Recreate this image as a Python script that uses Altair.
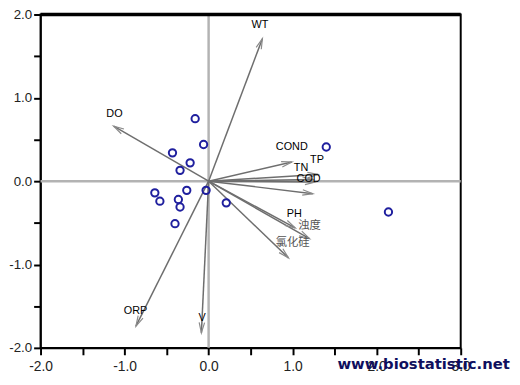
import altair as alt
import pandas as pd
import numpy as np

# ---- data ----
site_x = [-0.16, -0.06, -0.43, -0.22, -0.34, -0.03, -0.26, -0.64, -0.58, -0.36, -0.34, -0.40, 0.21, 1.40, 2.14]
site_y = [0.75, 0.44, 0.34, 0.22, 0.13, -0.11, -0.11, -0.14, -0.24, -0.22, -0.31, -0.51, -0.26, 0.41, -0.37]

arrow_x = [0.64, -1.13, -0.865, -0.086, 0.99, 1.30, 1.24, 1.27, 1.24, 1.03, 1.20, 0.95]
arrow_y = [1.71, 0.66, -1.74, -1.82, 0.23, 0.08, 0.02, -0.01, -0.15, -0.56, -0.69, -0.92]

label_text = ["WT", "DO", "ORP", "V", "COND", "TP", "TN", "COD", "PH", "浊度", "氯化硅"]
label_x = [0.61, -1.12, -0.87, -0.076, 0.99, 1.29, 1.10, 1.19, 1.02, 1.20, 1.00]
label_y = [1.87, 0.80, -1.56, -1.64, 0.405, 0.25, 0.155, 0.03, -0.393, -0.536, -0.738]

x_ticks = [-2.0, -1.5, -1.0, -0.5, 0.0, 0.5, 1.0, 1.5, 2.0, 2.5, 3.0]
y_ticks = [-2.0, -1.5, -1.0, -0.5, 0.0, 0.5, 1.0, 1.5, 2.0]
x_domain = [-2, 3]
y_domain = [-2, 2]

W, H = 426, 338

sites = pd.DataFrame({"x": site_x, "y": site_y})
arrows = pd.DataFrame({"x0": 0.0, "y0": 0.0, "x": arrow_x, "y": arrow_y})
sx = W / (x_domain[1] - x_domain[0])
sy = H / (y_domain[1] - y_domain[0])
arrows["ang"] = np.degrees(np.arctan2(arrows["x"] * sx, arrows["y"] * sy)) % 360
labels = pd.DataFrame({"x": label_x, "y": label_y, "t": label_text})
labels["cjk"] = [any(ord(c) > 255 for c in s) for s in label_text]
zeros = pd.DataFrame({"v": [0.0]})

lab_expr = "datum.value % 1 === 0 ? datum.value + '.0' : ''"
xs = alt.Scale(domain=x_domain, nice=False, zero=False)
ys = alt.Scale(domain=y_domain, nice=False, zero=False)

xaxis = alt.Axis(values=x_ticks, labelExpr=lab_expr, title=None, grid=False,
                 tickSize=7, tickWidth=2, tickColor="black", domainColor="black",
                 domainWidth=2, labelFontSize=14, labelFont="Liberation Sans",
                 labelColor="#222", labelPadding=5, labelFlush=False, labelOverlap=False)
yaxis = alt.Axis(values=y_ticks, labelExpr=lab_expr, title=None, grid=False,
                 tickSize=7, tickWidth=2, tickColor="black", domainColor="black",
                 domainWidth=1.5, labelFontSize=13.5, labelFont="Liberation Sans",
                 labelColor="#222", labelPadding=2, labelFlush=False, labelOverlap=False)

vline = alt.Chart(zeros).mark_rule(color="#b3b3b3", strokeWidth=2.5).encode(
    x=alt.X("v:Q", scale=xs, axis=xaxis))
hline = alt.Chart(zeros).mark_rule(color="#b3b3b3", strokeWidth=2.5).encode(
    y=alt.Y("v:Q", scale=ys, axis=yaxis))

lines = alt.Chart(arrows).mark_rule(color="#6e6e6e", strokeWidth=1.5).encode(
    x=alt.X("x0:Q", scale=xs), y=alt.Y("y0:Q", scale=ys), x2="x:Q", y2="y:Q")

heads = alt.Chart(arrows).mark_point(
    shape="M-0.55,2.1L0,0L0.55,2.1", filled=False, stroke="#8a8a8a",
    strokeWidth=1.2, size=100, opacity=1).encode(
    x=alt.X("x:Q", scale=xs), y=alt.Y("y:Q", scale=ys),
    angle=alt.Angle("ang:Q", scale=None))

pts = alt.Chart(sites).mark_point(shape="circle", filled=False, color="#1f1f9e",
                                  strokeWidth=2, size=55, opacity=1).encode(
    x=alt.X("x:Q", scale=xs), y=alt.Y("y:Q", scale=ys))

txt_latin = alt.Chart(labels).transform_filter("!datum.cjk").mark_text(
    font="Liberation Sans", fontSize=11, color="black", align="center", baseline="middle").encode(
    x=alt.X("x:Q", scale=xs), y=alt.Y("y:Q", scale=ys), text="t:N")
txt_cjk = alt.Chart(labels).transform_filter("datum.cjk").mark_text(
    font="Noto Sans CJK SC", fontSize=11.5, color="#555", align="center", baseline="middle").encode(
    x=alt.X("x:Q", scale=xs), y=alt.Y("y:Q", scale=ys), text="t:N")

topframe = alt.Chart(zeros).mark_rule(color="black", strokeWidth=3.5).encode(
    x=alt.value(0), x2=alt.value(W), y=alt.value(0))

watermark = alt.Chart(zeros).mark_text(
    text="www.biostatistic.net", font="DejaVu Sans", fontWeight="bold", fontSize=15,
    color="#0f0f5e", align="left", baseline="alphabetic").encode(
    x=alt.value(301), y=alt.value(359))

chart = alt.layer(vline, hline, lines, heads, pts, txt_latin, txt_cjk, topframe, watermark).properties(
    width=W, height=H,
    autosize=alt.AutoSizeParams(type="none"),
    padding={"left": 33, "top": 4, "right": 52, "bottom": 30},
    background="white",
).configure_view(stroke="black", strokeWidth=2)

chart.save("out.html", embed_options={"renderer": "svg", "actions": False})
